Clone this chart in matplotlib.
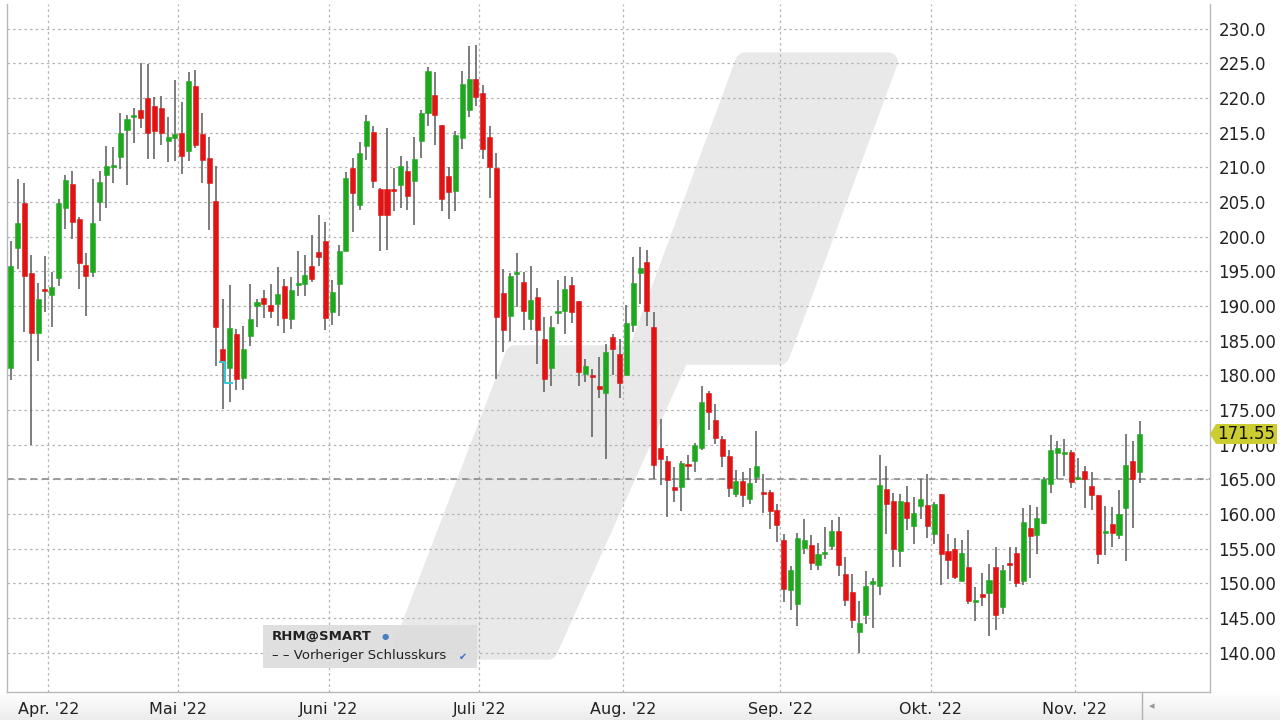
import matplotlib
matplotlib.use("Agg")
import matplotlib.pyplot as plt
from matplotlib.patches import Polygon, Rectangle
import numpy as np

plt.rcParams['font.family'] = ['DejaVu Sans']

# ---------------- data (daily candles, 24 Mar 2022 .. 14 Nov 2022) ----------------
opens = [181.0, 198.4, 204.9, 194.8, 186.1, 192.45, 191.6, 194.0, 204.2, 207.6,
         202.5, 195.9, 194.95, 205.0, 208.9, 210.05, 211.5, 215.4, 217.3, 218.3,
         220.0, 218.9, 218.6, 213.8, 214.2, 215.0, 212.4, 221.7, 214.8, 211.3,
         205.1, 183.8, 181.0, 186.0, 179.6, 185.7, 190.0, 191.1, 190.1, 190.3,
         192.9, 188.15, 193.0, 193.1, 195.8, 197.8, 199.3, 189.1, 193.2, 198.0,
         209.9, 204.6, 213.05, 215.1, 206.8, 206.8, 206.7, 207.4, 209.4, 208.0,
         213.85, 217.9, 220.4, 216.1, 208.75, 206.6, 214.2, 218.2, 222.7, 220.7,
         214.4, 209.9, 191.8, 188.6, 194.6, 193.5, 188.1, 191.35, 185.2, 181.0,
         189.0, 189.3, 193.0, 190.7, 180.2, 180.0, 178.4, 177.4, 185.5, 183.1,
         180.1, 187.2, 194.7, 196.4, 186.9, 169.5, 167.7, 163.95, 163.95, 167.2,
         167.7, 169.5, 177.5, 173.5, 170.8, 168.3, 162.9, 164.8, 162.2, 165.4,
         163.1, 163.2, 160.6, 156.2, 149.0, 147.0, 155.1, 155.5, 152.6, 154.2,
         155.4, 157.5, 151.3, 148.8, 142.95, 145.5, 149.95, 149.6, 163.6, 161.9,
         154.6, 161.7, 158.2, 161.1, 161.3, 157.1, 162.9, 154.6, 154.9, 150.3,
         152.3, 147.25, 148.3, 148.55, 152.3, 146.6, 152.85, 154.4, 150.4, 158.0,
         157.0, 158.7, 164.3, 168.8, 168.65, 168.9, 165.1, 166.15, 164.0, 162.7,
         157.2, 158.6, 157.0, 160.8, 167.7, 166.1]
highs = [199.4, 208.3, 207.8, 197.3, 193.3, 197.2, 194.95, 205.4, 208.9, 209.5,
         202.8, 197.7, 208.3, 209.5, 213.1, 212.9, 217.8, 217.6, 218.5, 225.0,
         224.9, 220.2, 220.3, 217.3, 222.6, 219.4, 223.7, 224.0, 217.8, 214.4,
         210.2, 191.0, 193.0, 186.7, 187.1, 193.2, 191.0, 192.25, 193.1, 195.6,
         193.9, 194.2, 197.9, 197.4, 200.2, 203.1, 202.1, 193.8, 198.8, 209.3,
         211.4, 213.7, 217.6, 216.0, 207.0, 215.7, 209.9, 211.7, 210.9, 214.3,
         218.3, 224.4, 223.7, 216.1, 210.0, 215.2, 223.85, 227.5, 227.6, 221.8,
         215.9, 212.0, 195.4, 194.8, 197.7, 194.9, 195.7, 192.6, 188.4, 188.6,
         193.7, 194.3, 194.2, 190.7, 182.3, 180.9, 182.6, 184.5, 186.0, 185.2,
         190.1, 197.1, 198.5, 198.1, 189.2, 173.7, 168.4, 166.8, 167.6, 168.5,
         170.3, 178.5, 177.7, 175.9, 171.3, 169.25, 166.4, 166.1, 166.7, 172.0,
         165.8, 163.5, 161.5, 157.1, 152.5, 157.3, 159.3, 157.0, 155.75, 158.1,
         159.1, 159.5, 153.8, 151.3, 147.4, 151.8, 150.8, 168.45, 166.9, 163.0,
         162.9, 164.1, 162.5, 165.1, 165.7, 161.8, 162.9, 157.1, 156.5, 156.2,
         157.7, 149.5, 151.45, 152.75, 155.2, 152.65, 155.2, 155.3, 160.9, 161.35,
         161.0, 165.3, 171.4, 170.5, 170.8, 169.3, 168.1, 166.9, 166.0, 162.7,
         161.1, 161.0, 163.4, 171.6, 170.6, 173.4]
lows = [179.3, 195.4, 186.2, 169.9, 182.0, 189.2, 186.9, 192.9, 201.1, 199.7,
        192.5, 188.5, 194.2, 202.2, 204.2, 207.8, 209.8, 207.45, 213.5, 215.7,
        211.15, 211.25, 213.2, 210.7, 210.9, 209.0, 210.9, 212.8, 207.75, 200.9,
        181.35, 175.1, 176.1, 177.9, 177.9, 184.25, 187.0, 188.25, 188.25, 187.1,
        186.1, 186.7, 191.5, 191.5, 193.45, 195.7, 186.6, 187.3, 188.5, 197.9,
        200.6, 203.8, 211.1, 207.0, 198.0, 198.1, 203.7, 204.2, 203.85, 201.7,
        211.4, 215.9, 213.2, 203.7, 202.6, 203.75, 212.7, 217.3, 218.8, 211.2,
        205.6, 179.4, 183.4, 185.0, 189.8, 186.5, 186.5, 181.6, 177.55, 178.4,
        187.4, 185.9, 187.6, 178.5, 179.1, 171.05, 176.8, 167.9, 180.0, 176.8,
        180.0, 186.3, 190.3, 187.1, 165.0, 164.2, 159.6, 161.8, 160.5, 164.9,
        166.1, 169.25, 172.05, 170.1, 166.8, 162.5, 162.5, 161.0, 161.4, 164.4,
        160.1, 157.8, 156.0, 147.3, 146.1, 143.9, 154.2, 151.9, 151.9, 153.5,
        154.8, 151.0, 146.8, 143.6, 139.9, 144.1, 143.6, 148.3, 157.1, 152.3,
        152.3, 157.7, 155.65, 159.3, 156.6, 155.65, 149.75, 150.6, 150.6, 150.3,
        147.0, 144.5, 146.7, 142.4, 143.3, 145.6, 150.3, 149.5, 149.8, 150.7,
        154.3, 158.6, 163.0, 165.0, 165.5, 163.75, 164.85, 160.9, 160.6, 152.8,
        154.1, 155.2, 156.35, 153.2, 158.0, 164.4]
closes = [195.8, 201.9, 194.3, 186.1, 191.0, 192.1, 192.7, 204.8, 208.2, 202.1,
          196.2, 194.3, 201.9, 207.9, 210.2, 210.4, 214.9, 217.0, 217.45, 217.1,
          215.0, 215.2, 215.0, 214.3, 214.8, 211.6, 222.4, 213.2, 211.1, 207.75,
          187.0, 181.9, 186.8, 179.5, 183.8, 188.1, 190.55, 190.3, 189.3, 191.7,
          188.3, 192.3, 193.2, 194.4, 193.9, 197.1, 188.3, 192.0, 197.9, 208.5,
          206.3, 212.1, 216.7, 208.0, 203.1, 203.1, 206.6, 210.2, 205.9, 211.25,
          217.9, 223.9, 217.5, 205.4, 206.5, 214.7, 222.0, 222.7, 220.2, 212.6,
          210.0, 188.4, 186.5, 194.3, 194.9, 189.3, 190.9, 186.5, 179.5, 186.9,
          189.3, 192.5, 189.1, 180.5, 181.4, 179.7, 178.0, 183.4, 183.8, 178.9,
          187.6, 193.3, 195.5, 189.3, 167.0, 167.95, 164.9, 163.4, 167.4, 166.9,
          169.9, 176.2, 174.65, 170.9, 168.3, 163.8, 164.8, 162.7, 164.4, 166.9,
          162.9, 160.5, 158.4, 149.25, 151.9, 156.6, 156.2, 153.0, 154.2, 154.4,
          157.5, 152.6, 147.6, 144.7, 144.3, 149.6, 150.3, 164.25, 161.5, 154.9,
          161.9, 159.4, 160.2, 162.1, 158.2, 161.45, 154.2, 153.3, 150.9, 154.4,
          147.4, 147.4, 148.1, 150.5, 145.5, 151.9, 152.65, 150.1, 158.9, 156.8,
          159.4, 165.0, 169.2, 169.5, 168.85, 164.6, 165.3, 165.0, 162.8, 154.3,
          157.6, 157.3, 160.0, 167.0, 165.0, 171.55]

month_labels = ["Apr. '22", "Mai '22", "Juni '22", "Juli '22", "Aug. '22",
                "Sep. '22", "Okt. '22", "Nov. '22"]
month_start_idx = [6, 25, 47, 69, 90, 113, 135, 156]   # first trading day of each month
prev_close = 165.0
last_price = 171.55
dividend_idx = 31
dividend_before, dividend_after = 181.9, 178.9
y_ticks = list(range(140, 231, 5))
instrument = "RHM@SMART"
legend_line = "Vorheriger Schlusskurs"

# ---------------- figure ----------------
W, H = 1280, 720
fig = plt.figure(figsize=(W / 100, H / 100), dpi=100)
fig.patch.set_facecolor("white")

def fx(px):
    return px / W

def fy(py):
    return 1 - py / H

# light gradient at the bottom strip (x-axis label area)
grad_ax = fig.add_axes([0, 0, 1, fy(692)], zorder=-5)
grad = np.linspace(0, 1, 50).reshape(-1, 1)
grad_ax.imshow(grad, aspect="auto", cmap=matplotlib.colors.LinearSegmentedColormap.from_list(
    "g", ["#ececec", "#ffffff"]), extent=[0, 1, 0, 1], origin="lower")
grad_ax.axis("off")

ax = fig.add_axes([fx(7), fy(692), fx(1210) - fx(7), fy(4) - fy(692)])
ax.set_facecolor("white")
n = len(closes)
idx = np.arange(n)
ax.set_xlim(-0.54, 175.3)
ax.set_ylim(134.33, 233.55)

# watermark (decorative)
wm = [(745, 62), (888, 62), (780, 355), (680, 355), (548, 650), (402, 650),
      (515, 355), (637, 355)]
ax.add_patch(Polygon([(fx(a), fy(b)) for a, b in wm], closed=True,
                     transform=fig.transFigure, facecolor="#e9e9e9",
                     edgecolor="#e9e9e9", linewidth=14, joinstyle="round", zorder=0.5))

# grid
for t in y_ticks:
    ax.axhline(t, color="#b4b4b4", lw=0.9, ls=(0, (2, 2.5)), zorder=1)
for m in month_start_idx:
    ax.axvline(m - 0.5, color="#b4b4b4", lw=0.9, ls=(0, (2, 2.5)), zorder=1)

# previous close line
ax.axhline(prev_close, color="#8c8c8c", lw=1.2, ls=(0, (4, 3)), zorder=2)

# candles
green = "#1fa81f"
red = "#e01414"
o = np.array(opens); h = np.array(highs); l = np.array(lows); c = np.array(closes)
up = c >= o
ax.vlines(idx, l, h, color="#5a5a5a", lw=1.1, zorder=3)
body_bottom = np.minimum(o, c)
body_h = np.maximum(np.abs(c - o), 0.3)
cols = np.where(up, green, red)
ax.bar(idx, body_h, bottom=body_bottom, width=0.74, color=cols,
       edgecolor=cols, linewidth=0.4, zorder=4)

# dividend marker
ax.plot([dividend_idx - 0.4, dividend_idx + 0.3, dividend_idx + 0.3, dividend_idx + 1.3],
        [dividend_before, dividend_before, dividend_after, dividend_after],
        color="#33c6d8", lw=1.4, zorder=5)

# axes styling
for s in ["left", "bottom", "right", "top"]:
    ax.spines[s].set_color("#b8b8b8")
    ax.spines[s].set_linewidth(1.0)
ax.spines["top"].set_visible(False)

ax.yaxis.tick_right()
ax.set_yticks(y_ticks)
ax.set_yticklabels([f"{t:.1f}" if t >= 200 else f"{t:.2f}" for t in y_ticks],
                   fontsize=12, color="#222222")
ax.tick_params(axis="y", length=0, pad=6)
ax.set_xticks([m - 0.5 for m in month_start_idx])
ax.set_xticklabels(month_labels, fontsize=11.5, color="#222222")
ax.tick_params(axis="x", length=0, pad=7)

# last price tag
tag_y = fy(434)
tag = [(fx(1210), tag_y), (fx(1216), fy(424)), (fx(1277), fy(424)),
       (fx(1277), fy(444)), (fx(1216), fy(444))]
fig.add_artist(Polygon(tag, closed=True, transform=fig.transFigure,
                       facecolor="#cccc33", edgecolor="none", zorder=10))
fig.text(fx(1217), tag_y, f"{last_price:.2f}", fontsize=12, color="#111111",
         va="center", ha="left", zorder=11)

# legend box
fig.add_artist(Rectangle((fx(263), fy(668)), fx(477) - fx(263), fy(625) - fy(668),
                         transform=fig.transFigure, facecolor="#dcdcdc",
                         edgecolor="none", alpha=0.9, zorder=8))
fig.text(fx(272), fy(636), instrument, fontsize=9.5, fontweight="bold",
         color="#222222", va="center", ha="left", zorder=9)
fig.text(fx(382), fy(636), "●", fontsize=6, color="#4a7fc0", va="center",
         ha="left", zorder=9)
fig.text(fx(272), fy(656), "– – " + legend_line, fontsize=9.5, color="#222222",
         va="center", ha="left", zorder=9)
fig.text(fx(459), fy(657), "✔", fontsize=7, color="#3a6fd0", va="center",
         ha="left", zorder=9)

# end-of-data marker below axis
fig.add_artist(matplotlib.lines.Line2D([fx(1142), fx(1142)], [fy(692), fy(720)],
                                       transform=fig.transFigure, color="#b0b0b0", lw=1))
fig.text(fx(1149), fy(706), "◂", fontsize=8, color="#999999", va="center", ha="left")

fig.savefig("out.png", dpi=100)
